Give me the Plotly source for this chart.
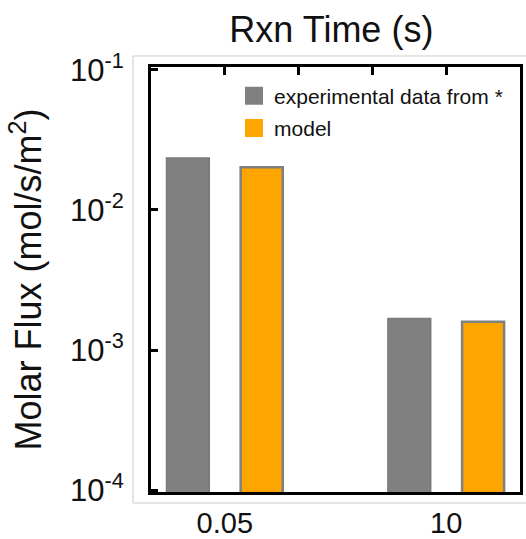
import plotly.graph_objects as go

# ---- data ----
categories = ["0.05", "10"]                 # Rxn Time (s)
experimental = [0.0235, 0.00168]           # experimental data from *
model = [0.0202, 0.00159]                  # model
series_names = ["experimental data from *", "model"]
y_tick_exponents = [-4, -3, -2, -1]

# ---- layout helpers ----
x_pos = [1, 4]
x_range = [0, 5]
top_ticks = [1, 2, 3, 4]
FONT = "Liberation Sans, Arial, sans-serif"
GRAY = "#808080"
ORANGE = "#FFA500"

fig = go.Figure()
fig.add_trace(go.Bar(x=x_pos, y=experimental, name=series_names[0], width=0.58, offset=-0.79,
                     marker=dict(color=GRAY, line=dict(color="#7a7a7a", width=1.5)),
                     showlegend=False))
fig.add_trace(go.Bar(x=x_pos, y=model, name=series_names[1], width=0.57, offset=0.215,
                     marker=dict(color=ORANGE, line=dict(color=GRAY, width=2.5)),
                     showlegend=False))
# legend entries
fig.add_trace(go.Scatter(x=[None], y=[None], mode="markers", name=series_names[0], legendgroup="a",
                         marker=dict(symbol="square", size=16, color=GRAY, line=dict(color=GRAY, width=2))))
fig.add_trace(go.Scatter(x=[None], y=[None], mode="markers", name=series_names[1], legendgroup="b",
                         marker=dict(symbol="square", size=16, color=ORANGE, line=dict(color=ORANGE, width=2))))

fig.update_layout(
    width=526, height=539,
    margin=dict(l=151, r=6, t=67, b=47, autoexpand=False),
    paper_bgcolor="white", plot_bgcolor="white",
    font=dict(family=FONT, color="#111111"),
    barmode="overlay",
    title=dict(text="Rxn Time (s)", x=0.63, xanchor="center", y=0.945, yanchor="middle",
               automargin=False,
               font=dict(size=36, family=FONT, color="#111111")),
    legend=dict(x=0.225, y=0.98, xanchor="left", yanchor="top", bgcolor="rgba(0,0,0,0)",
                font=dict(size=21, family=FONT, color="#111111"), traceorder="grouped",
                tracegroupgap=2, itemwidth=30),
    xaxis=dict(range=x_range, tickvals=x_pos, ticktext=categories, ticks="",
               showline=True, linecolor="black", linewidth=3, mirror=True,
               showgrid=False, zeroline=False, layer="below traces", automargin=False,
               tickfont=dict(size=29, family=FONT, color="#111111"), ticklabelstandoff=3),
    xaxis2=dict(range=x_range, overlaying="x", side="top", anchor="y", tickvals=top_ticks,
                ticks="inside", ticklen=8, tickwidth=2.5, tickcolor="black", automargin=False,
                showticklabels=False, showgrid=False, zeroline=False, showline=False),
    yaxis=dict(type="log", range=[-4.014, -0.979],
               tickvals=[10 ** e for e in y_tick_exponents],
               ticktext=[f"10<sup>{e}</sup>" for e in y_tick_exponents],
               ticks="inside", ticklen=7, tickwidth=2.5, tickcolor="black",
               showline=True, linecolor="black", linewidth=3, mirror=True,
               showgrid=False, zeroline=False, automargin=False,
               tickfont=dict(size=31, family=FONT, color="#111111"), ticklabelstandoff=18,
               title=dict(text="Molar Flux (mol/s/m<sup>2</sup>)", standoff=18,
                          font=dict(size=36, family=FONT, color="#111111"))),
    shapes=[dict(type="rect", xref="paper", yref="paper", x0=-0.0488, x1=1.02, y0=-0.0259, y1=1.0259,
                 line=dict(color="#cccccc", width=1), fillcolor="rgba(0,0,0,0)", layer="above")],
)
# ensure xaxis2 is drawn
fig.add_trace(go.Scatter(x=[None], y=[None], xaxis="x2", showlegend=False, hoverinfo="skip"))

fig.write_html("out.html", config={"displayModeBar": False},
               post_script="document.body.style.margin='0';")
